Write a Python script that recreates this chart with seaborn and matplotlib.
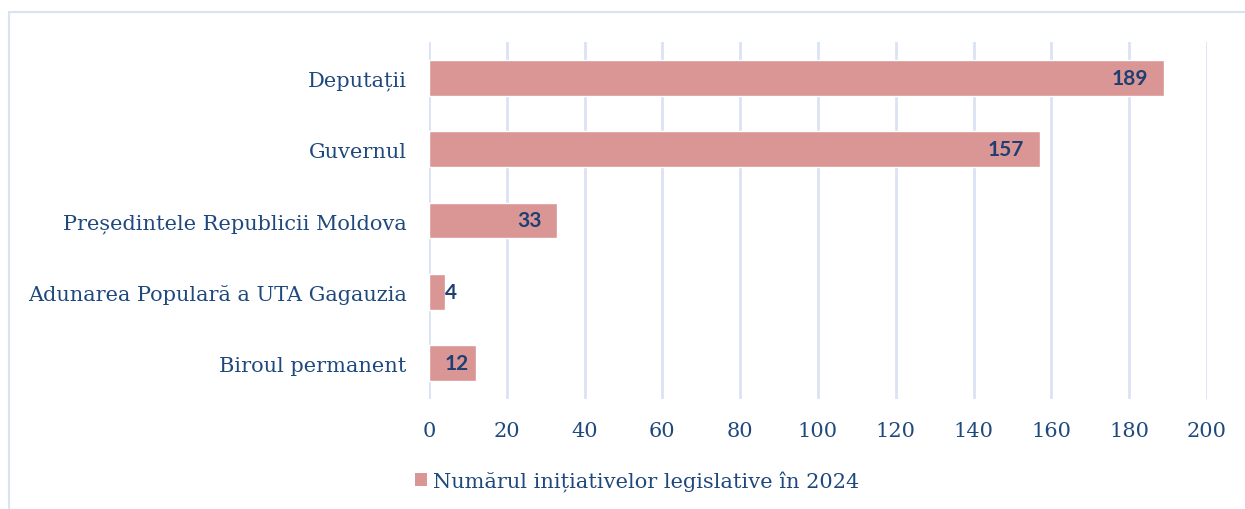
import matplotlib
matplotlib.use("Agg")
import matplotlib.pyplot as plt
import seaborn as sns
import pandas as pd
from matplotlib.patches import Rectangle, Patch

# data
categories = [
    "Deputații",
    "Guvernul",
    "Președintele Republicii Moldova",
    "Adunarea Populară a UTA Gagauzia",
    "Biroul permanent",
]
values = [189, 157, 33, 4, 12]
series_name = "Numărul inițiativelor legislative în 2024"
x_ticks = [0, 20, 40, 60, 80, 100, 120, 140, 160, 180, 200]

bar_color = "#D99694"
text_color = "#1F497D"
label_color = "#1F3F73"
grid_color = "#DAE3F3"

df = pd.DataFrame({"cat": categories, "val": values})

sns.set_theme(style="white")
plt.rcParams["font.family"] = ["DejaVu Serif"]

fig = plt.figure(figsize=(12.45, 5.1), dpi=100)
ax = fig.add_axes([429 / 1245, 1 - 400 / 510, (1207 - 429) / 1245, (400 - 43) / 510])

sns.barplot(data=df, x="val", y="cat", color=bar_color, width=0.5,
            saturation=1, ax=ax, zorder=3)

ax.set_xlim(0, 200)
ax.set_xticks(x_ticks)
ax.set_xlabel("")
ax.set_ylabel("")
for s in ax.spines.values():
    s.set_visible(False)
ax.grid(axis="x", color=grid_color, linewidth=2, zorder=0)
ax.grid(axis="y", visible=False)
ax.tick_params(axis="x", length=0, pad=16, labelsize=15, labelcolor=text_color)
ax.tick_params(axis="y", length=0, pad=16, labelsize=15, labelcolor=text_color)

# value labels, inside end of the bar
px = 72 / fig.dpi
for i, v in enumerate(values):
    if v < 20:
        ax.annotate(str(v), (0, i), xytext=(16 * px, 0), textcoords="offset points",
                    ha="left", va="center", fontsize=15, fontweight="bold",
                    color=label_color, family="Lato", zorder=4)
    else:
        ax.annotate(str(v), (v, i), xytext=(-16 * px, 0), textcoords="offset points",
                    ha="right", va="center", fontsize=15, fontweight="bold",
                    color=label_color, family="Lato", zorder=4)

# legend below
handle = Patch(facecolor=bar_color, edgecolor="none", label=series_name)
fig.legend(handles=[handle], loc="center", bbox_to_anchor=(637 / 1245, 1 - 482 / 510),
           frameon=False, fontsize=15, labelcolor=text_color,
           handlelength=0.6, handleheight=0.6, handletextpad=0.3)

# chart frame
fig.patches.append(Rectangle((9 / 1245, -0.1), 1.2, 1 - 13 / 510 + 0.1,
                             transform=fig.transFigure, fill=False,
                             edgecolor=grid_color, linewidth=1.5))

fig.savefig("out.png", dpi=100)
